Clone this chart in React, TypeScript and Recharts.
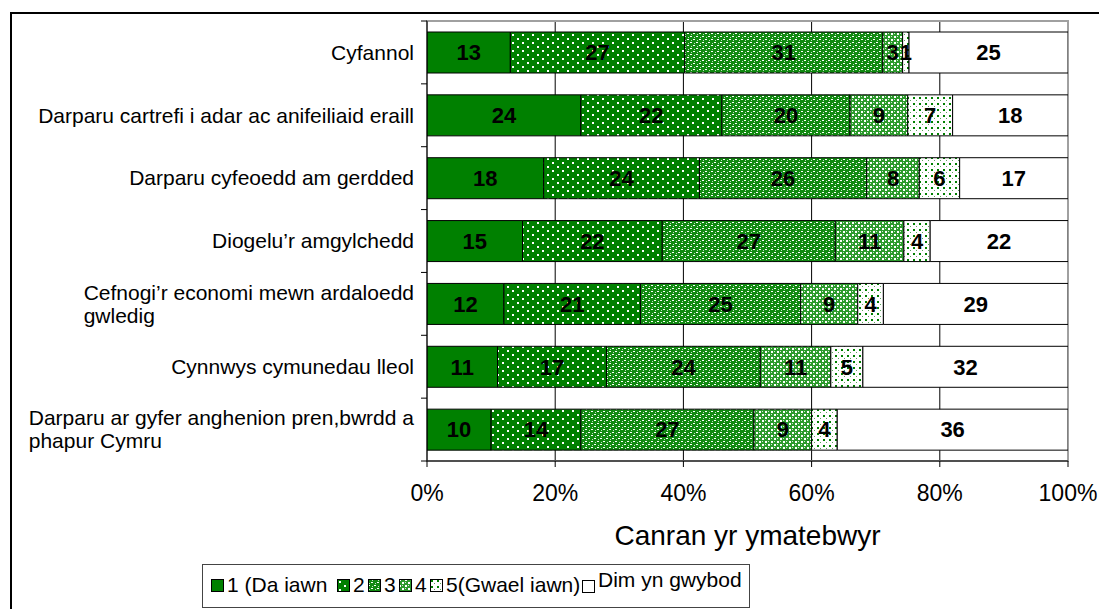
import React from "react";
import {
  BarChart,
  Bar,
  XAxis,
  YAxis,
  CartesianGrid,
  LabelList,
  ReferenceArea,
} from "recharts";

// ---- data ----
const categories = [
  "Cyfannol",
  "Darparu cartrefi i adar ac anifeiliaid eraill",
  "Darparu cyfeoedd am gerdded",
  "Diogelu’r amgylchedd",
  "Cefnogi’r economi mewn ardaloedd\ngwledig",
  "Cynnwys cymunedau lleol",
  "Darparu ar gyfer anghenion pren,bwrdd a\nphapur Cymru",
];
const seriesNames = ["1 (Da iawn", "2", "3", "4", "5(Gwael iawn)", "Dim yn gwybod"];
const s1 = [13, 24, 18.2, 14.9, 12, 11, 10];
const s2 = [27.2, 22, 24.3, 21.8, 21.3, 17, 14];
const s3 = [30.9, 20, 26.1, 27, 25, 24, 27];
const s4 = [3.1, 9, 8.2, 10.7, 8.9, 11, 9];
const s5 = [1, 7, 6.3, 4.1, 4, 5, 4];
const s6 = [24.8, 18, 16.9, 21.5, 28.9, 32, 36];
const xTicks = [0, 20, 40, 60, 80, 100];
const xTitle = "Canran yr ymatebwyr";

const seriesValues = [s1, s2, s3, s4, s5, s6];
const keys = ["v1", "v2", "v3", "v4", "v5", "v6"];
const data = categories.map((name, i) => {
  const row: any = { name };
  keys.forEach((k, j) => (row[k] = seriesValues[j][i]));
  return row;
});

// ---- styles ----
const FONT = "'Liberation Sans', Arial, sans-serif";
const GREEN = "#008000";
const fills = ["url(#p1)", "url(#p2)", "url(#p3)", "url(#p4)", "url(#p5)", "#ffffff"];

const W = 1099;
const H = 609;
const PLOT_TOP = 21;
const PLOT_BOTTOM = 461;
const PLOT_LEFT = 427;
const PLOT_RIGHT = 1068;
const BAND = (PLOT_BOTTOM - PLOT_TOP) / categories.length;

let measureCtx: CanvasRenderingContext2D | null = null;
function measure(text: string, font: string) {
  if (!measureCtx) {
    const c = document.createElement("canvas");
    measureCtx = c.getContext("2d");
  }
  if (!measureCtx) return text.length * 10;
  measureCtx.font = font;
  return measureCtx.measureText(text).width;
}

const YTick = (props: any) => {
  const { y, payload, index } = props;
  const lines = String(payload.value).split("\n");
  const fs = 21;
  const lh = 23;
  const right = 414;
  const maxW = Math.max(...lines.map((l) => measure(l, `${fs}px ${FONT}`)));
  const startX = right - maxW;
  const y0 = y - ((lines.length - 1) * lh) / 2;
  return (
    <g>
      <line x1={PLOT_LEFT - 6} x2={PLOT_LEFT} y1={y - BAND / 2} y2={y - BAND / 2} stroke="#000" />
      {index === categories.length - 1 && (
        <line x1={PLOT_LEFT - 6} x2={PLOT_LEFT} y1={y + BAND / 2} y2={y + BAND / 2} stroke="#000" />
      )}
      <text x={startX} y={y0} fontSize={fs} fontFamily={FONT} fill="#000" textAnchor="start">
        {lines.map((l, i) => (
          <tspan key={i} x={startX} dy={i === 0 ? "0.35em" : lh}>
            {l}
          </tspan>
        ))}
      </text>
    </g>
  );
};

const XTitle = (props: any) => {
  const vb = props.viewBox || {};
  const cx = (vb.x ?? PLOT_LEFT) + (vb.width ?? PLOT_RIGHT - PLOT_LEFT) / 2;
  return (
    <text x={cx} y={545} textAnchor="middle" fontSize={28} fontFamily={FONT} fill="#000">
      {xTitle}
    </text>
  );
};

const labelFmt = (v: any) => String(Math.round(Number(v)));

const Swatch = ({ fill }: { fill: string }) => (
  <svg width={13} height={13} style={{ display: "block" }}>
    <rect x={0.5} y={0.5} width={12} height={12} fill={fill} stroke="#000" strokeWidth={1} />
  </svg>
);

const legendPos = [211, 337, 368, 399, 430, 582];

export default function App() {
  return (
    <div
      style={{
        position: "absolute",
        left: 0,
        top: 0,
        width: W,
        height: H,
        overflow: "hidden",
        background: "#fff",
        fontFamily: FONT,
      }}
    >
      <div
        style={{
          position: "absolute",
          left: 10,
          top: 12,
          width: 1200,
          height: 800,
          border: "2px solid #000",
          boxSizing: "border-box",
        }}
      />
      <div style={{ position: "absolute", left: 0, top: 0 }}>
        <BarChart
          width={W}
          height={H}
          data={data}
          layout="vertical"
          margin={{ top: PLOT_TOP, right: W - PLOT_RIGHT, bottom: H - PLOT_BOTTOM - 60, left: 0 }}
          barSize={41}
        >
          <defs>
            <pattern id="p1" width="4" height="4" patternUnits="userSpaceOnUse">
              <rect width="4" height="4" fill={GREEN} />
            </pattern>
            <pattern id="p2" width="10" height="8" patternUnits="userSpaceOnUse" shapeRendering="crispEdges">
              <rect width="10" height="8" fill={GREEN} />
              <rect x="2" y="2" width="2" height="2" fill="#fff" />
              <rect x="7" y="6" width="2" height="2" fill="#fff" />
            </pattern>
            <pattern id="p3" width="6" height="6" patternUnits="userSpaceOnUse" shapeRendering="crispEdges">
              <rect width="6" height="6" fill="#118a11" />
              <rect x="0" y="0" width="2" height="1" fill="#fff" />
              <rect x="3" y="3" width="2" height="1" fill="#fff" />
              <rect x="1" y="4" width="1" height="1" fill="#bfe0bf" />
              <rect x="4" y="1" width="1" height="1" fill="#bfe0bf" />
            </pattern>
            <pattern id="p4" width="6" height="6" patternUnits="userSpaceOnUse" shapeRendering="crispEdges">
              <rect width="6" height="6" fill="#2c9a2c" />
              <rect x="0" y="0" width="2" height="2" fill="#fff" />
              <rect x="3" y="3" width="2" height="2" fill="#fff" />
              <rect x="3" y="0" width="1" height="1" fill="#d0ecd0" />
              <rect x="0" y="3" width="1" height="1" fill="#d0ecd0" />
            </pattern>
            <pattern id="p5" width="6" height="6" patternUnits="userSpaceOnUse" shapeRendering="crispEdges">
              <rect width="6" height="6" fill="#fff" />
              <rect x="1" y="1" width="2" height="2" fill={GREEN} />
              <rect x="4" y="4" width="1" height="1" fill="#5aa85a" />
            </pattern>
          </defs>
          <CartesianGrid horizontal={false} vertical={true} stroke="#000" strokeWidth={1} />
          <ReferenceArea x1={0} x2={100} fill="none" stroke="#a0a0a0" strokeWidth={2} ifOverflow="visible" />
          <XAxis
            type="number"
            domain={[0, 100]}
            ticks={xTicks}
            allowDataOverflow
            tickFormatter={(v: number) => `${v}%`}
            height={60}
            tickSize={6}
            tickMargin={18}
            axisLine={{ stroke: "#000" }}
            tickLine={{ stroke: "#000" }}
            tick={{ fontSize: 23, fill: "#000", fontFamily: FONT }}
            interval={0}
            label={<XTitle />}
          />
          <YAxis
            type="category"
            dataKey="name"
            width={PLOT_LEFT}
            axisLine={{ stroke: "#000" }}
            tickLine={false}
            tick={<YTick />}
            interval={0}
          />
          {keys.map((k, j) => (
            <Bar
              key={k}
              dataKey={k}
              name={seriesNames[j]}
              stackId="a"
              fill={fills[j]}
              stroke="#000"
              strokeWidth={1}
              isAnimationActive={false}
            >
              <LabelList
                dataKey={k}
                position="center"
                formatter={labelFmt}
                style={{ fontSize: 22, fontWeight: "bold", fill: "#000", fontFamily: FONT }}
              />
            </Bar>
          ))}
        </BarChart>
      </div>
      <div
        style={{
          position: "absolute",
          left: 202,
          top: 564,
          width: 548,
          height: 44,
          border: "1px solid #444",
          boxSizing: "border-box",
          background: "#fff",
        }}
      />
      {seriesNames.map((n, i) => (
        <div
          key={n}
          style={{
            position: "absolute",
            left: legendPos[i],
            top: i === 5 ? 566 : 572,
            display: "flex",
            alignItems: "center",
            gap: 3,
            fontSize: 21,
            color: "#000",
            whiteSpace: "nowrap",
            lineHeight: "26px",
          }}
        >
          <div style={{ marginTop: i === 5 ? 14 : 0 }}>
            <Swatch fill={fills[i]} />
          </div>
          <span>{n}</span>
        </div>
      ))}
    </div>
  );
}
